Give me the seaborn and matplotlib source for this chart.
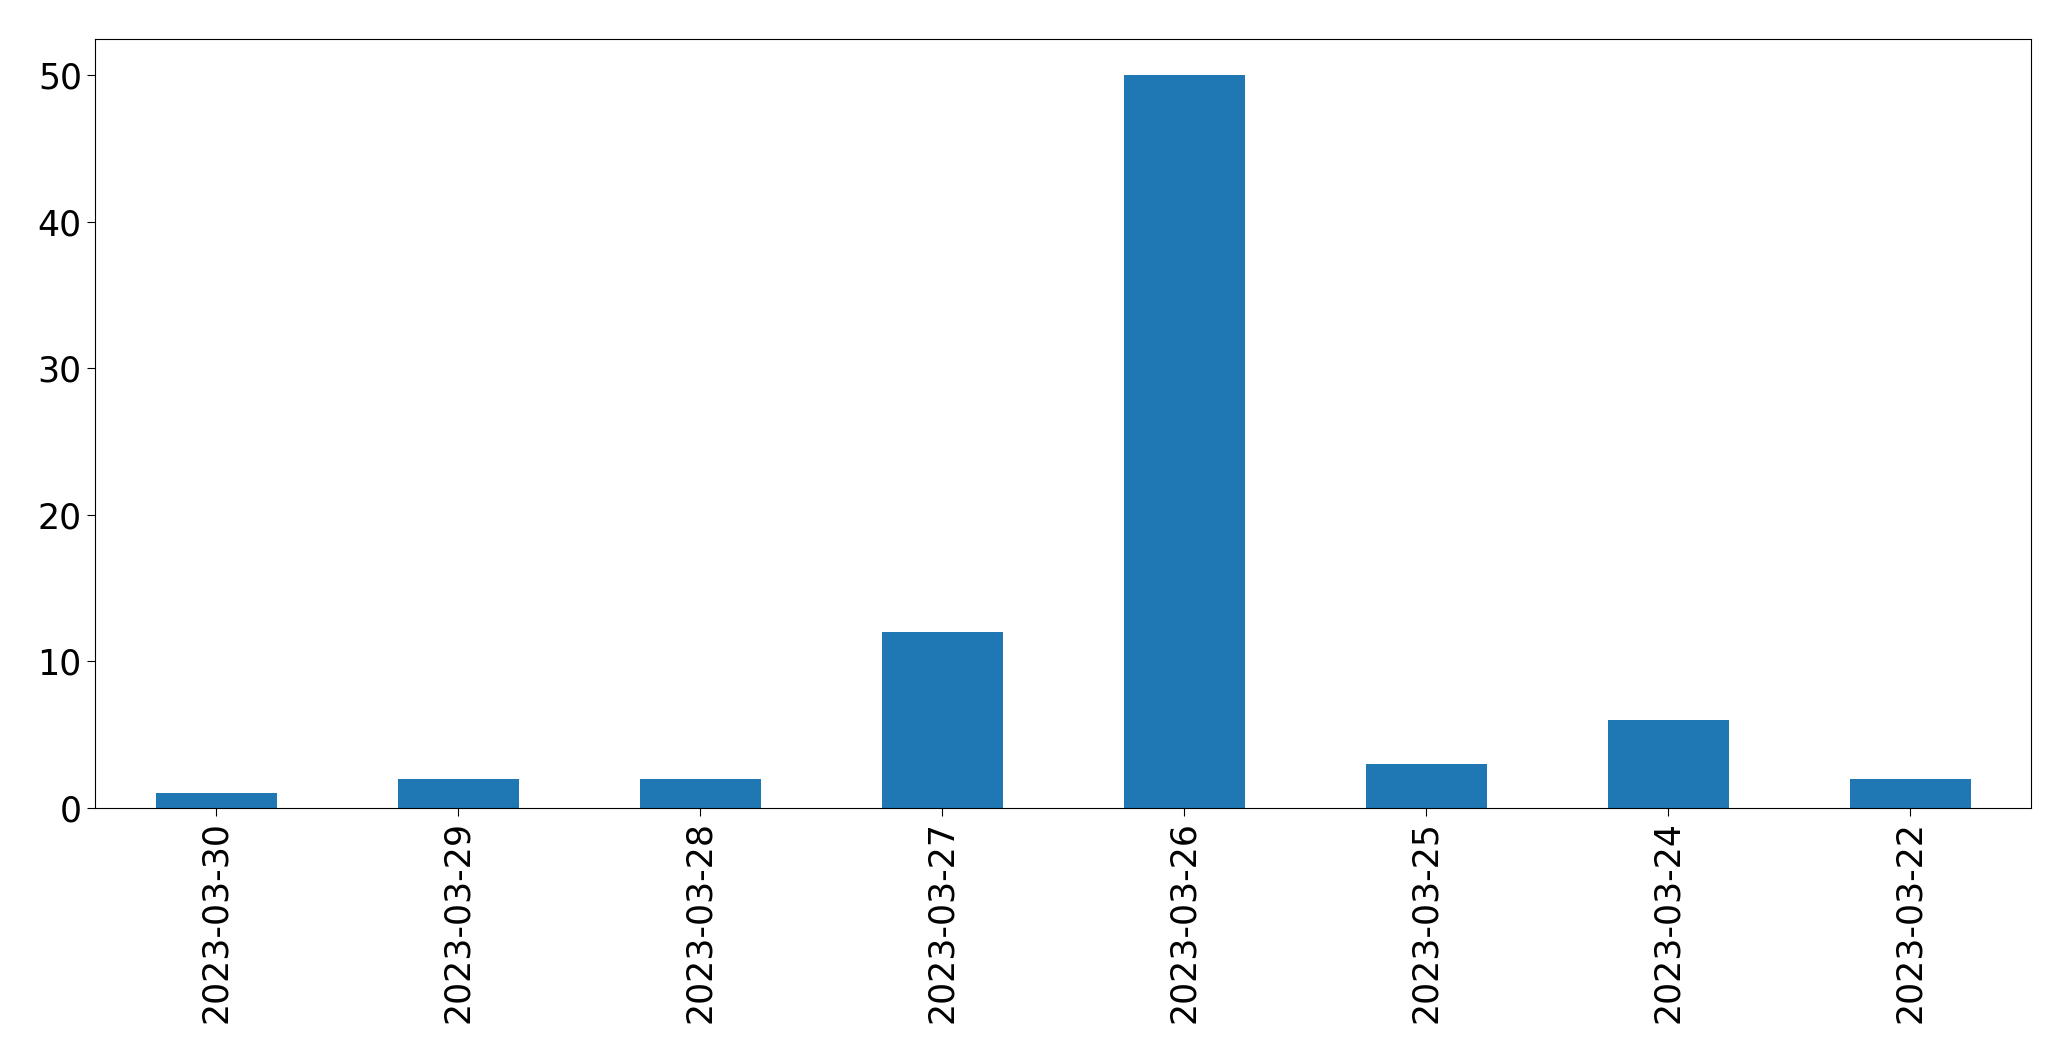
import matplotlib
matplotlib.use("Agg")
import matplotlib.pyplot as plt
import seaborn as sns
import pandas as pd

dates = ["2023-03-30", "2023-03-29", "2023-03-28", "2023-03-27",
         "2023-03-26", "2023-03-25", "2023-03-24", "2023-03-22"]
counts = [1, 2, 2, 12, 50, 3, 6, 2]

df = pd.DataFrame({"date": dates, "count": counts})

fig = plt.figure(figsize=(20.71, 10.61), dpi=100)
ax = fig.add_axes([0.0459, 0.2385, 0.9348, 0.7250])
sns.barplot(data=df, x="date", y="count", order=dates, color="#1f77b4",
            saturation=1, width=0.5, ax=ax)
ax.set_xlim(-0.5, len(dates) - 0.5)
ax.set_xlabel("")
ax.set_ylabel("")
ax.tick_params(axis="both", labelsize=25, length=6)
plt.setp(ax.get_xticklabels(), rotation=90)
fig.savefig("out.png", dpi=100)
